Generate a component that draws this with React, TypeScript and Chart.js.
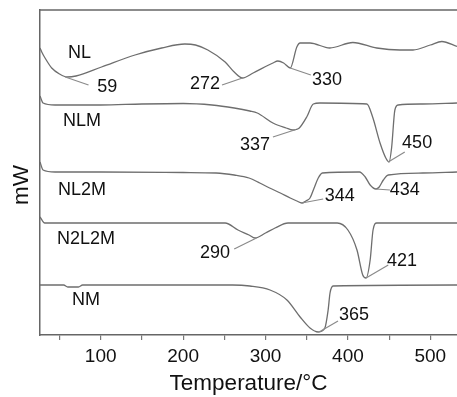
import React, { useEffect, useRef } from "react";
import { Chart, registerables } from "chart.js";

Chart.register(...registerables);

const FONT = '"Liberation Sans", Arial, Helvetica, sans-serif';

// Temperature range of the x axis (°C)
const xMin = 26.3;
const xMax = 532.4;
const xTickStep = 50;
const yMin = 0;
const yMax = 325;
const yTitleText = "mW";
const yTitleV = 150;

// Curve NL
const nlT = [26.3, 28.4, 32.4, 40.5, 50, 59, 70, 101, 141.6, 174, 202, 215, 230, 251, 262, 272, 285, 309, 315, 322, 330, 338, 342, 354, 378, 406, 435, 463, 479, 500, 514, 532.4];
const nlV = [287, 283, 277, 267, 261, 258, 259, 268, 280, 287, 291, 290, 285, 273, 263, 257, 262, 272, 274, 272, 267, 288, 292, 292, 287, 292.5, 287, 285, 285, 290, 293.5, 288.5];

// Curve NLM
const nlmT = [26.3, 30, 44.5, 100, 150, 200, 235, 262, 281, 290, 309, 325, 333, 337, 341, 350, 358, 366, 423, 430, 439, 446, 450, 453, 457, 461, 491, 532.4];
const nlmV = [239, 232, 230, 230, 231, 231.5, 230, 227, 224, 222, 212, 207, 205, 205.5, 207, 218, 231, 232, 231, 218, 192, 177, 173, 187, 225, 230, 231, 232];

// Curve NL2M
const nl2mT = [26.3, 30, 44.5, 100, 200, 240, 262, 280, 293, 305, 318, 330, 338, 344, 349, 354, 359, 364, 369, 414, 421, 427, 434, 438, 443, 449, 491, 532.4];
const nl2mV = [173, 165, 163, 163, 162.5, 162, 160, 157, 152, 147, 142, 137, 134, 132, 134, 137, 147, 157, 162, 163, 158, 150, 146, 148, 155, 160, 162, 163];

// Curve N2L2M
const n2l2mT = [26.3, 32, 45, 251, 266.6, 280, 287.3, 300, 311.6, 327.3, 387, 400, 411, 418, 422, 427, 430.5, 435, 532.4];
const n2l2mV = [118, 112, 112, 112, 105, 100, 97, 102, 107, 112, 112, 105, 85, 60, 57, 75, 105, 112, 112];

// Curve NM
const nmT = [26.3, 55, 60, 73, 78, 260, 281, 305.5, 326, 342, 354, 364, 372, 376, 378.3, 382, 532.4];
const nmV = [50, 50, 48, 48, 50, 50, 49, 45, 35, 18, 7, 3, 7, 25, 42, 49, 50];

// Curve names and where they are written
const curveNames = ["NL", "NLM", "NL2M", "N2L2M", "NM"];
const curveNameT = [60.3, 54.2, 48.2, 47, 65.2];
const curveNameV = [282, 214, 145, 96, 35];

// Peak annotations: text, peak point, label centre, leader end
const peakText = ["59", "272", "330", "337", "450", "344", "434", "290", "421", "365"];
const peakT = [57, 272, 330, 337, 449, 344, 434, 289, 422, 365];
const peakV = [258, 257, 267, 205.5, 173, 132, 146, 97, 57, 3];
const peakLabelT = [107.8, 226.7, 374.5, 287.3, 484, 390, 469, 238.6, 465.6, 407.3];
const peakLabelV = [248, 251, 255, 190, 192, 139, 145, 82, 74, 20];
const leaderEndT = [85.2, 247.2, 355, 309, 469, 370, 451, 262, 449, 388];
const leaderEndV = [250, 250, 260, 198, 183, 136, 145, 86, 70, 14];

const seriesT = [nlT, nlmT, nl2mT, n2l2mT, nmT];
const seriesV = [nlV, nlmV, nl2mV, n2l2mV, nmV];

const annotationPlugin = {
  id: "dscAnnotations",
  afterDatasetsDraw(chart: any) {
    const { ctx, chartArea, scales } = chart;
    const xs = scales.x;
    const ys = scales.y;
    ctx.save();
    // top frame line
    ctx.strokeStyle = "#666";
    ctx.lineWidth = 1.5;
    ctx.beginPath();
    ctx.moveTo(chartArea.left, chartArea.top);
    ctx.lineTo(chartArea.right, chartArea.top);
    ctx.stroke();

    // leaders
    ctx.strokeStyle = "#8a8a8a";
    ctx.lineWidth = 1.2;
    for (let i = 0; i < peakText.length; i++) {
      ctx.beginPath();
      ctx.moveTo(xs.getPixelForValue(peakT[i]), ys.getPixelForValue(peakV[i]));
      ctx.lineTo(xs.getPixelForValue(leaderEndT[i]), ys.getPixelForValue(leaderEndV[i]));
      ctx.stroke();
    }

    ctx.fillStyle = "#111";
    ctx.font = `18px ${FONT}`;
    ctx.textBaseline = "middle";
    ctx.textAlign = "center";
    for (let i = 0; i < peakText.length; i++) {
      ctx.fillText(peakText[i], xs.getPixelForValue(peakLabelT[i]), ys.getPixelForValue(peakLabelV[i]));
    }
    ctx.textAlign = "left";
    for (let i = 0; i < curveNames.length; i++) {
      ctx.fillText(curveNames[i], xs.getPixelForValue(curveNameT[i]), ys.getPixelForValue(curveNameV[i]));
    }

    // y axis title
    ctx.save();
    ctx.translate(chartArea.left - 18, ys.getPixelForValue(yTitleV));
    ctx.rotate(-Math.PI / 2);
    ctx.font = `22.5px ${FONT}`;
    ctx.textAlign = "center";
    ctx.textBaseline = "middle";
    ctx.fillText(yTitleText, 0, 0);
    ctx.restore();

    ctx.restore();
  },
};

export default function App() {
  const canvasRef = useRef<HTMLCanvasElement | null>(null);

  useEffect(() => {
    const canvas = canvasRef.current;
    if (!canvas) return;
    const datasets = curveNames.map((name, i) => ({
      label: name,
      data: seriesT[i].map((t, j) => ({ x: t, y: seriesV[i][j] })),
      borderColor: "#6e6e6e",
      borderWidth: 1.3,
      pointRadius: 0,
      fill: false,
      cubicInterpolationMode: "monotone" as const,
    }));

    const chart = new Chart(canvas, {
      type: "line",
      data: { datasets },
      options: {
        animation: false,
        responsive: false,
        devicePixelRatio: 1,
        layout: { padding: { left: 0, right: 0, top: 10, bottom: 0 } },
        plugins: { legend: { display: false }, tooltip: { enabled: false } },
        scales: {
          x: {
            type: "linear",
            min: xMin,
            max: xMax,
            ticks: {
              stepSize: xTickStep,
              includeBounds: false,
              autoSkip: false,
              maxRotation: 0,
              color: "#111",
              padding: 5,
              font: { size: 19, family: FONT },
              callback: (v: any) => (Number(v) % 100 === 0 ? String(v) : ""),
            },
            grid: { drawOnChartArea: false, drawTicks: true, tickLength: 5, color: "#777", lineWidth: 1.2 },
            border: { display: true, color: "#666", width: 1.5 },
            title: {
              display: true,
              text: "Temperature/°C",
              color: "#111",
              font: { size: 22.5, family: FONT },
              padding: { top: 0, bottom: 0 },
            },
            afterFit: (s: any) => {
              s.height = 62;
            },
          },
          y: {
            type: "linear",
            min: yMin,
            max: yMax,
            ticks: { display: false },
            grid: { display: false },
            border: { display: true, color: "#666", width: 1.5 },
            title: { display: false },
            afterFit: (s: any) => {
              s.width = 40;
            },
          },
        },
      },
      plugins: [annotationPlugin],
    });
    return () => chart.destroy();
  }, []);

  return (
    <div style={{ position: "fixed", left: 0, top: 0, width: 457, height: 397, background: "#fff" }}>
      <canvas ref={canvasRef} width={457} height={397} style={{ width: 457, height: 397, display: "block" }} />
    </div>
  );
}
